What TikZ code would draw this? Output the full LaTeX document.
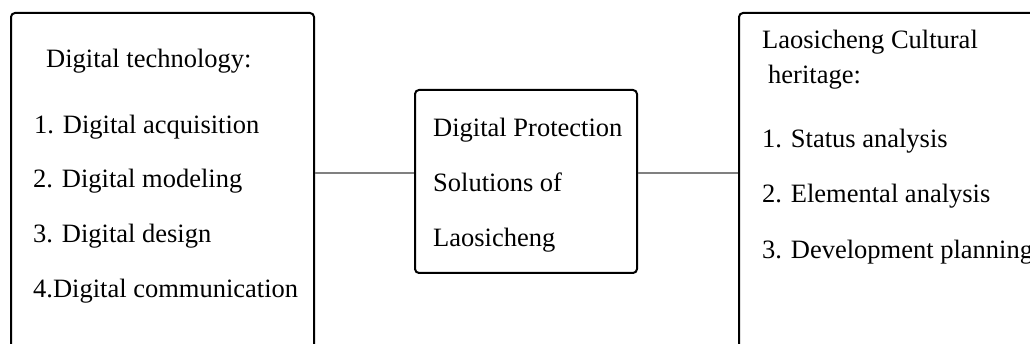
\documentclass[tikz,border=0pt]{standalone}
\usepackage{fontspec}
\setmainfont{Liberation Serif}
\begin{document}
\begin{tikzpicture}[x=1pt,y=-1pt,
  panel/.style={draw=black, line width=2pt, rounded corners=4pt, inner sep=0pt},
  txt/.style={anchor=base west, inner sep=0pt, font=\fontsize{26.5}{30}\selectfont},
  link/.style={draw=black!50, line width=1.2pt}]
\useasboundingbox (0,0) rectangle (1030,344);
\clip (0,0) rectangle (1030,344);
% three panels
\node[panel, minimum width=303pt, minimum height=347pt] (tech) at (162.5,186.5) {};
\node[panel, minimum width=222pt, minimum height=183pt] (sol) at (526,181.5) {};
\node[panel, minimum width=330pt, minimum height=347pt] (heri) at (904,186.5) {};
% connectors
\coordinate (lvl) at (0,173);
\draw[link] (tech.east |- lvl) -- (sol.west |- lvl);
\draw[link] (sol.east |- lvl) -- (heri.west |- lvl);
% left panel text
\node[txt] (t0) at (46,68) {Digital technology:};
\node[txt] (t1) at (34,134) {1. Digital acquisition};
\node[txt] (t2) at (33,188) {2. Digital modeling};
\node[txt] (t3) at (33,243) {3. Digital design};
\node[txt] (t4) at (33,298) {4.Digital communication};
% middle panel text
\node[txt] (s1) at (433,137) {Digital Protection};
\node[txt] (s2) at (433,192) {Solutions of};
\node[txt] (s3) at (433,247) {Laosicheng};
% right panel text
\node[txt] (h0) at (762,49) {Laosicheng Cultural};
\node[txt] (h1) at (768,84) {heritage:};
\node[txt] (h2) at (762,148) {1. Status analysis};
\node[txt] (h3) at (762,203) {2. Elemental analysis};
\node[txt] (h4) at (762,259) {3. Development planning};
\end{tikzpicture}
\end{document}
